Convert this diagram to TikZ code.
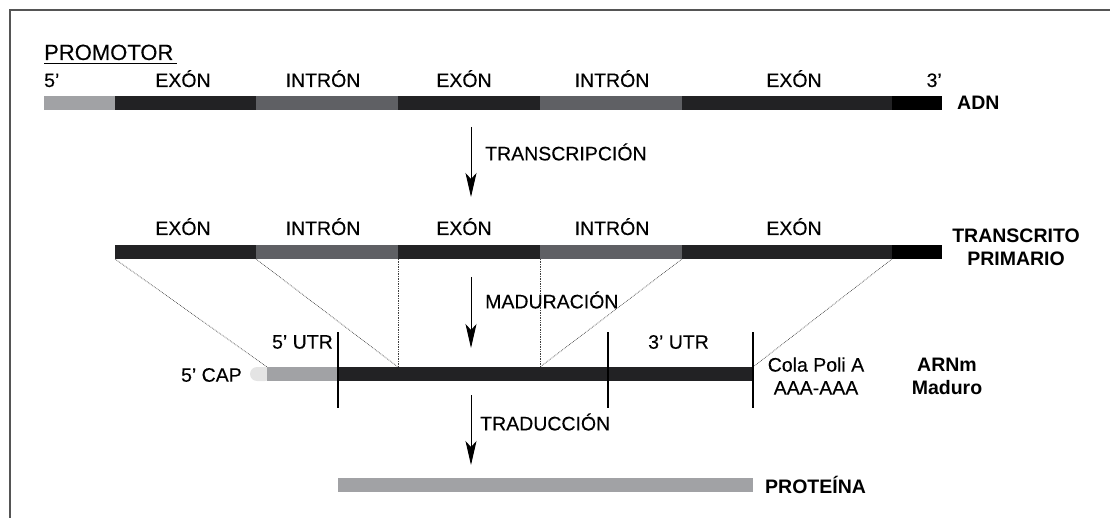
\documentclass[tikz,border=0pt]{standalone}
\usepackage{fontspec}
\setmainfont{Liberation Sans}
\newfontfamily\lblfont[FakeBold=0.25]{Liberation Sans}
\usetikzlibrary{arrows.meta}

\definecolor{promgray}{HTML}{A1A2A5}
\definecolor{exondark}{HTML}{222224}
\definecolor{introngray}{HTML}{5F6064}
\definecolor{capgray}{HTML}{E4E4E4}
\definecolor{framegray}{HTML}{555555}

\tikzset{
  lbl/.style={inner sep=0pt, font=\lblfont\fontsize{19.5}{23}\selectfont},
  blbl/.style={inner sep=0pt, font=\fontsize{19.5}{23}\selectfont\bfseries},
  flow/.style={line width=1pt, -{Stealth[length=24pt, width=11pt, inset=6pt]}},
  splice/.style={densely dotted, line width=0.7pt, black!75},
  cut/.style={line width=1.1pt, black},
}

\begin{document}
\begin{tikzpicture}[x=1pt, y=-1pt]
\useasboundingbox (0,0) rectangle (1110,518);

% frame
\draw[framegray, line width=1.6pt] (10,518) -- (10,10) -- (1110,10);

% ---------- DNA ----------
\fill[promgray]   (44,96)  rectangle (115,110);
\fill[exondark]   (115,96) rectangle (256,110);
\fill[introngray] (256,96) rectangle (398,110);
\fill[exondark]   (398,96) rectangle (540,110);
\fill[introngray] (540,96) rectangle (682,110);
\fill[exondark]   (682,96) rectangle (892,110);
\fill[black]      (892,96) rectangle (942,110);

\node[inner sep=0pt, anchor=base west, font=\lblfont\fontsize{22}{26}\selectfont] (prom) at (44,60) {PROMOTOR};
\draw[line width=0.9pt] (prom.south west) ++(0,3) -- ++(133,0);
\node[lbl, anchor=base west] (p5) at (44,87) {5’};
\node[lbl, anchor=base] (d1) at (183,87) {EXÓN};
\node[lbl, anchor=base] (d2) at (323,87) {INTRÓN};
\node[lbl, anchor=base] (d3) at (464,87) {EXÓN};
\node[lbl, anchor=base] (d4) at (612,87) {INTRÓN};
\node[lbl, anchor=base] (d5) at (794,87) {EXÓN};
\node[lbl, anchor=base east] (p3) at (942,87) {3’};
\node[blbl, anchor=west] (adn) at (957,103) {ADN};

% transcription
\coordinate (t1) at (471,127);
\coordinate (t2) at (471,197);
\draw[flow] (t1) -- (t2);
\node[lbl, anchor=west] (ltr) at (485,152) {TRANSCRIPCIÓN};

% ---------- primary transcript ----------
\fill[exondark]   (115,245) rectangle (256,259);
\fill[introngray] (256,245) rectangle (398,259);
\fill[exondark]   (398,245) rectangle (540,259);
\fill[introngray] (540,245) rectangle (682,259);
\fill[exondark]   (682,245) rectangle (892,259);
\fill[black]      (892,245) rectangle (942,259);

\node[lbl, anchor=base] (r1) at (183,235) {EXÓN};
\node[lbl, anchor=base] (r2) at (323,235) {INTRÓN};
\node[lbl, anchor=base] (r3) at (464,235) {EXÓN};
\node[lbl, anchor=base] (r4) at (612,235) {INTRÓN};
\node[lbl, anchor=base] (r5) at (794,235) {EXÓN};
\node[blbl, align=center] (prim) at (1016,247) {TRANSCRITO\\PRIMARIO};

% splice junctions
\coordinate (a1) at (115,259); \coordinate (b1) at (267,367);
\coordinate (a2) at (256,259); \coordinate (b2) at (398,367);
\coordinate (a3) at (398,259); \coordinate (b3) at (398,367);
\coordinate (a4) at (540,259); \coordinate (b4) at (540,367);
\coordinate (a5) at (682,259); \coordinate (b5) at (540,367);
\coordinate (a6) at (892,259); \coordinate (b6) at (753,367);
\foreach \i in {1,...,6} \draw[splice] (a\i) -- (b\i);

% maturation
\coordinate (m1) at (471,277);
\coordinate (m2) at (471,348);
\draw[flow] (m1) -- (m2);
\node[lbl, anchor=west] (lmad) at (485,300) {MADURACIÓN};

% ---------- mature mRNA ----------
\fill[capgray, rounded corners=7pt] (250,367) rectangle (272,381);
\fill[promgray] (267,367) rectangle (338,381);
\fill[exondark] (338,367) rectangle (753,381);

\coordinate (c1t) at (338,332); \coordinate (c1b) at (338,408);
\coordinate (c2t) at (608,332); \coordinate (c2b) at (608,408);
\coordinate (c3t) at (753,332); \coordinate (c3b) at (753,408);
\draw[cut] (c1t) -- (c1b);
\draw[cut] (c2t) -- (c2b);
\draw[cut] (c3t) -- (c3b);

\node[lbl, anchor=east] (cap) at (242,375) {5’ CAP};
\node[lbl, anchor=east] (utr5) at (333,342) {5’ UTR};
\node[lbl, anchor=west] (utr3) at (648,342) {3’ UTR};
\node[lbl, align=center] (cola) at (816,376) {Cola Poli A\\AAA-AAA};
\node[blbl, align=center] (arnm) at (947,376) {ARNm\\Maduro};

% translation
\coordinate (s1) at (471,395);
\coordinate (s2) at (471,465);
\draw[flow] (s1) -- (s2);
\node[lbl, anchor=west] (ltrad) at (480,422) {TRADUCCIÓN};

% ---------- protein ----------
\fill[promgray] (338,478) rectangle (753,492);
\node[blbl, anchor=west] (prot) at (765,485) {PROTEÍNA};
\end{tikzpicture}
\end{document}
